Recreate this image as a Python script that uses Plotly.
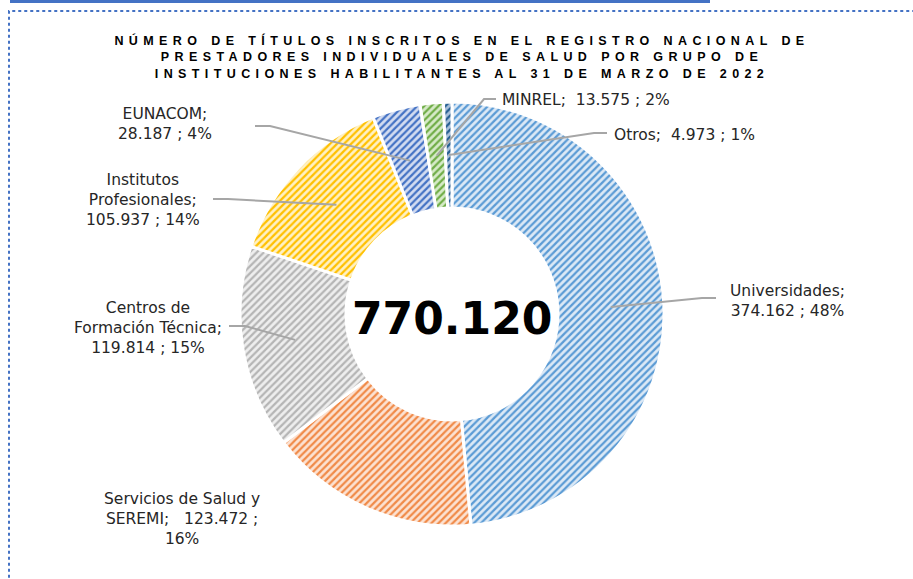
import math
import plotly.graph_objects as go

W, H = 913, 579

categories = ["Universidades", "Servicios de Salud y SEREMI", "Centros de Formación Técnica",
              "Institutos Profesionales", "EUNACOM", "MINREL", "Otros"]
values = [374162, 123472, 119814, 105937, 28187, 13575, 4973]
percents = [48, 16, 15, 14, 4, 2, 1]

fg_colors = ["#5B9BD5", "#F08A48", "#B5B5B5", "#FFC000", "#4472C4", "#70AD47", "#255E91"]
bg_colors = ["#DCE9F6", "#FCE2D2", "#EEEEEE", "#FFF1C4", "#D3DCF1", "#D6EAC8", "#A9C0DA"]

title = ("NÚMERO DE TÍTULOS INSCRITOS EN EL REGISTRO NACIONAL DE<br>"
         "PRESTADORES INDIVIDUALES DE SALUD POR GRUPO DE<br>"
         "INSTITUCIONES HABILITANTES AL 31 DE MARZO DE 2022")

total = sum(values)


def fmt(v):
    return f"{v:,}".replace(",", ".")


# label layouts (pixels): text template, x, y, anchor, leader (start, knee) or None
label_cfg = [
    ("{n};<br>{v} ; {p}%", 787, 301, "center", ((716, 298), (702, 298))),
    ("Servicios de Salud y<br>SEREMI;   {v} ;<br>{p}%", 182, 519, "center", None),
    ("Centros de<br>Formación Técnica;<br>{v} ; {p}%", 148, 328, "center", ((229, 326), (245, 326))),
    ("Institutos<br>Profesionales;<br>{v} ; {p}%", 143, 200, "center", ((213, 199), (228, 199))),
    ("{n};<br>{v} ; {p}%", 165, 124, "center", ((255, 126), (270, 126))),
    ("{n};  {v} ; {p}%", 500, 100, "left", ((496, 99), (484, 99))),
    ("{n};  {v} ; {p}%", 612, 135, "left", ((607, 133), (594, 133))),
]

cx, cy, R = 452, 314, 212


def px(x):
    return x / W


def py(y):
    return 1 - y / H


fig = go.Figure()
fig.add_trace(go.Pie(
    labels=categories,
    values=values,
    sort=False,
    direction="clockwise",
    rotation=0,
    hole=0.5,
    textinfo="none",
    showlegend=False,
    domain=dict(x=[px(cx - R), px(cx + R)], y=[py(cy + R), py(cy - R)]),
    marker=dict(
        colors=bg_colors,
        line=dict(color="white", width=3),
        pattern=dict(shape="/", fgcolor=fg_colors, bgcolor=bg_colors, size=5, solidity=0.45),
    ),
))

annotations = []
shapes = []
cum = 0
for i, (name, v) in enumerate(zip(categories, values)):
    mid = (cum + v / 2) / total
    cum += v
    tpl, lx, ly, anchor, leader = label_cfg[i]
    text = tpl.format(n=name, v=fmt(v), p=percents[i])
    annotations.append(dict(
        x=px(lx), y=py(ly), xref="paper", yref="paper", text=text, showarrow=False,
        xanchor=anchor, yanchor="middle", align="center",
        font=dict(family="DejaVu Sans", size=15.5, color="#262626"),
    ))
    if leader:
        th = 2 * math.pi * mid
        ex = cx + 0.75 * R * math.sin(th)
        ey = cy - 0.75 * R * math.cos(th)
        (sx, sy), (kx, ky) = leader
        shapes.append(dict(
            type="path", xref="paper", yref="paper",
            path=f"M {px(sx)},{py(sy)} L {px(kx)},{py(ky)} L {px(ex)},{py(ey)}",
            line=dict(color="#A6A6A6", width=2),
        ))

annotations.append(dict(
    x=px(cx), y=py(318), xref="paper", yref="paper", text=f"<b>{fmt(total)}</b>",
    showarrow=False, xanchor="center", yanchor="middle",
    font=dict(family="DejaVu Sans", size=44, color="black"),
))

# frame
shapes.append(dict(type="rect", xref="paper", yref="paper", x0=px(9), x1=1.05, y0=-0.05, y1=py(11),
                   line=dict(color="#4472C4", width=2, dash="dot"), layer="below"))
shapes.append(dict(type="rect", xref="paper", yref="paper", x0=px(10), x1=px(710), y0=py(3), y1=1.01,
                   line=dict(width=0), fillcolor="#4472C4"))

fig.update_layout(
    width=W, height=H,
    margin=dict(l=0, r=0, t=0, b=0),
    paper_bgcolor="white",
    plot_bgcolor="white",
    title=dict(
        text=f"<b>{title}</b>", x=px(462), xanchor="center", y=py(45), yanchor="top",
        font=dict(family="Liberation Sans Narrow, Liberation Sans, Arial", size=12.5, color="black"),
    ),
    annotations=annotations,
    shapes=shapes,
)

post = ("document.body.style.margin='0';"
        "document.querySelectorAll('.gtitle').forEach(function(e){e.style.letterSpacing='5.4px';});")
fig.write_html("out.html", post_script=post, config={"displayModeBar": False})
